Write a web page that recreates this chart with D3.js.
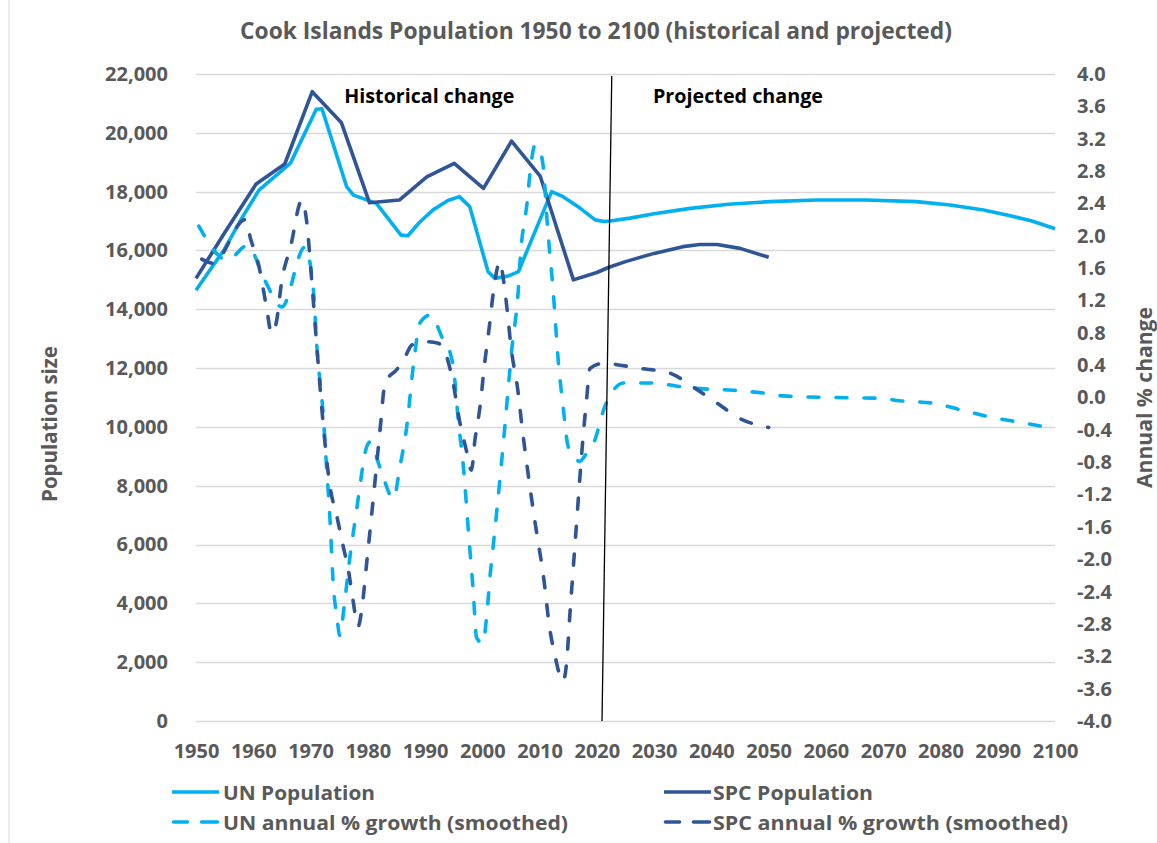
<!DOCTYPE html>
<html><head><meta charset="utf-8">
<script src="https://cdn.jsdelivr.net/npm/d3@7"></script>
<style>
body{margin:0;background:#fff}
svg{display:block}
text{font-family:"Open Sans",sans-serif;font-weight:700}
</style>
</head><body>
<svg id="chart" width="1157" height="843"></svg>
<script>
// ---------- DATA ----------
const chartTitle = "Cook Islands Population 1950 to 2100 (historical and projected)";
const xTicks = [1950,1960,1970,1980,1990,2000,2010,2020,2030,2040,2050,2060,2070,2080,2090,2100];
const leftTicks = [0,2000,4000,6000,8000,10000,12000,14000,16000,18000,20000,22000];
const rightTicks = [-4.0,-3.6,-3.2,-2.8,-2.4,-2.0,-1.6,-1.2,-0.8,-0.4,0.0,0.4,0.8,1.2,1.6,2.0,2.4,2.8,3.2,3.6,4.0];
const seriesNames = ["UN Population","SPC Population","UN annual % growth (smoothed)","SPC annual % growth (smoothed)"];

// UN population [year, persons]
const unPop = [[1950,14650],[1952.5,15350],[1955,16050],[1958,17100],[1961,18050],[1966.5,18970],[1971,20800],[1972,20820],
 [1976.3,18170],[1977.5,17880],[1981.5,17600],[1985.8,16520],[1987,16500],[1989,16950],[1991.4,17380],[1994,17700],
 [1996,17830],[1997.8,17490],[2001,15280],[2002.2,15050],[2004.5,15130],[2006.3,15280],[2012.1,18000],[2014.1,17830],
 [2017,17450],[2019.7,17040],[2021,16990],[2022.3,17000],[2025.8,17100],[2030,17250],[2036.3,17430],[2043,17570],
 [2050.2,17660],[2058.4,17715],[2067,17715],[2075.8,17660],[2081.7,17545],[2087.5,17375],[2091.6,17205],[2096,17000],[2100,16740]];

// SPC population [year, persons]
const spcPop = [[1950,15050],[1955,16600],[1960.5,18260],[1965.5,18940],[1970.3,21400],[1975.4,20340],[1980.3,17620],
 [1985.5,17715],[1990.3,18500],[1995.1,18960],[2000.2,18110],[2005.1,19720],[2010.1,18530],[2015.9,15000],[2020,15250],
 [2022,15420],[2025,15620],[2030,15900],[2035,16130],[2038,16200],[2041,16200],[2045,16070],[2050,15770]];

// UN annual % growth (smoothed) [year, %]
const unGrowth = [[1950.5,2.12],[1955.5,1.70],[1959,1.88],[1962,1.45],[1965,1.12],[1969,1.86],[1970.5,1.33],[1971.1,0.63],
 [1972.2,-0.2],[1972.8,-0.86],[1973.4,-1.51],[1974,-2.34],[1974.6,-2.71],[1975.1,-2.94],[1976,-2.5],[1976.9,-1.96],
 [1977.8,-1.51],[1978.7,-1.06],[1979.5,-0.69],[1980.4,-0.55],[1982.1,-0.86],[1984.5,-1.25],[1985.6,-0.86],[1986.8,-0.36],
 [1988,0.42],[1989.1,0.92],[1990.9,1.02],[1993.2,0.71],[1994.4,0.55],[1995,0.34],[1995.8,-0.28],[1996.7,-0.86],
 [1997.6,-1.68],[1998.4,-2.38],[1999,-2.97],[2000.1,-3.04],[2000.8,-2.67],[2001.4,-2.17],[2001.7,-1.97],[2003.4,-0.77],
 [2005.2,0.63],[2006.3,1.35],[2006.6,1.70],[2007.8,2.40],[2008.6,2.94],[2009.2,3.12],[2010.1,3.04],[2010.7,2.81],
 [2011.3,2.19],[2012.4,1.29],[2013.3,0.42],[2014.1,-0.11],[2015,-0.61],[2016.5,-0.77],[2017,-0.79],[2018.2,-0.69],
 [2019.4,-0.57],[2021.4,-0.11],[2022.9,0.09],[2024.6,0.18],[2029.9,0.18],[2034,0.14],[2038,0.11],[2043.8,0.09],
 [2049.6,0.05],[2052.5,0.02],[2061.3,0.0],[2069.5,-0.01],[2072.9,-0.04],[2078.7,-0.07],[2083.4,-0.15],[2088.6,-0.24],
 [2093.3,-0.30],[2098.8,-0.37]];

// SPC annual % growth (smoothed) [year, %]
const spcGrowth = [[1951,1.71],[1953,1.66],[1958.6,2.2],[1959.5,1.97],[1961,1.62],[1962.3,1.12],[1963.2,0.79],[1964,0.92],
 [1965,1.45],[1966.5,1.86],[1968.5,2.44],[1969.3,2.19],[1970.2,1.45],[1971.1,0.63],[1972.2,-0.32],[1973.4,-1.10],
 [1974.6,-1.47],[1975.7,-1.84],[1976.6,-2.13],[1977.4,-2.50],[1978.3,-2.83],[1979,-2.59],[1979.8,-2.05],[1980.7,-1.43],
 [1981.5,-0.86],[1982.3,-0.28],[1982.8,0.09],[1983.4,0.22],[1985,0.34],[1986.5,0.50],[1987.7,0.65],[1990,0.69],
 [1992.3,0.67],[1993.8,0.50],[1994.9,0.18],[1996.1,-0.32],[1997.2,-0.65],[1998.1,-0.90],[1998.7,-0.53],[1999.6,-0.11],
 [2000.4,0.42],[2001.3,0.92],[2001.9,1.29],[2003.1,1.68],[2003.7,1.45],[2004.4,1.04],[2005,0.63],[2006.2,0.09],
 [2007,-0.40],[2008.3,-1.10],[2009.5,-1.68],[2010.6,-2.17],[2011.8,-2.87],[2012.7,-3.2],[2014.1,-3.51],[2014.7,-3.29],
 [2015.3,-2.67],[2015.9,-2.09],[2016.5,-1.51],[2017,-1.02],[2017.6,-0.48],[2018.2,-0.03],[2018.8,0.36],[2021,0.42],
 [2027.5,0.36],[2032.8,0.30],[2036.8,0.13],[2041,-0.07],[2045,-0.26],[2050,-0.37]];

// annotations
const annotations = [{text:"Historical change", year:1975.9}, {text:"Projected change", year:2029.8}];
const divider = [[2022.6,21930],[2020.9,0]];

// ---------- LAYOUT ----------
const svg = d3.select("#chart");
const W = 1157, H = 843;
const plot = {left:196, right:1055, top:74, bottom:721};
const blue = "#00B0F0", navy = "#2F5597", grey = "#595959", grid = "#D9D9D9";

const x = d3.scaleLinear().domain([1950,2100]).range([plot.left, plot.right]);
const yL = d3.scaleLinear().domain([0,22000]).range([plot.bottom, plot.top]);
const yR = d3.scaleLinear().domain([-4,4]).range([plot.bottom, plot.top]);

svg.append("rect").attr("width",W).attr("height",H).attr("fill","#fff");
svg.append("line").attr("x1",9).attr("x2",9).attr("y1",0).attr("y2",H).attr("stroke",grid).attr("stroke-width",1);

// gridlines
svg.append("g").selectAll("line").data(leftTicks).join("line")
  .attr("x1",plot.left).attr("x2",plot.right)
  .attr("y1",d=>Math.round(yL(d))+0.5).attr("y2",d=>Math.round(yL(d))+0.5)
  .attr("stroke",grid).attr("stroke-width",1.3);

// axes
const axL = svg.append("g").attr("transform",`translate(${plot.left},0)`)
  .call(d3.axisLeft(yL).tickValues(leftTicks).tickSize(0).tickPadding(28).tickFormat(d3.format(",")));
const axR = svg.append("g").attr("transform",`translate(${plot.right},0)`)
  .call(d3.axisRight(yR).tickValues(rightTicks).tickSize(0).tickPadding(22).tickFormat(d=>d.toFixed(1)));
const axB = svg.append("g").attr("transform",`translate(0,${plot.bottom})`)
  .call(d3.axisBottom(x).tickValues(xTicks).tickSize(0).tickPadding(23).tickFormat(d3.format("d")));
[axL,axR,axB].forEach(a=>{
  a.select(".domain").remove();
  a.selectAll("text").attr("fill",grey).style("font-size","20px").style("font-family","'Open Sans',sans-serif").style("font-weight","700");
});

// axis titles
svg.append("text").attr("transform","translate(57,424) rotate(-90)").attr("text-anchor","middle")
  .attr("fill",grey).style("font-size","21px").attr("textLength",156).attr("lengthAdjust","spacingAndGlyphs")
  .text("Population size");
svg.append("text").attr("transform","translate(1152,397.5) rotate(-90)").attr("text-anchor","middle")
  .attr("fill",grey).style("font-size","21px").attr("textLength",181).attr("lengthAdjust","spacingAndGlyphs")
  .text("Annual % change");

// title
svg.append("text").attr("x",240).attr("y",38.5).attr("fill",grey).style("font-size","23px")
  .attr("textLength",712).attr("lengthAdjust","spacingAndGlyphs").text(chartTitle);

// lines
const lineL = d3.line().x(d=>x(d[0])).y(d=>yL(d[1])).curve(d3.curveLinear);
const lineR = d3.line().x(d=>x(d[0])).y(d=>yR(d[1])).curve(d3.curveMonotoneX);
const series = [
  {data:unPop, gen:lineL, color:blue, dash:null},
  {data:spcPop, gen:lineL, color:navy, dash:null},
  {data:unGrowth, gen:lineR, color:blue, dash:"11,17"},
  {data:spcGrowth, gen:lineR, color:navy, dash:"11,17"}
];
svg.append("g").selectAll("path").data(series).join("path")
  .attr("d",s=>s.gen(s.data)).attr("fill","none").attr("stroke",s=>s.color)
  .attr("stroke-width",3.6).attr("stroke-linejoin","round")
  .attr("stroke-linecap",s=>s.dash?"round":"butt")
  .attr("stroke-dasharray",s=>s.dash);

// divider line
svg.append("line").attr("x1",x(divider[0][0])).attr("y1",yL(divider[0][1]))
  .attr("x2",x(divider[1][0])).attr("y2",yL(divider[1][1]))
  .attr("stroke","#000").attr("stroke-width",1.3);

// annotations
svg.append("g").selectAll("text").data(annotations).join("text")
  .attr("x",d=>x(d.year)).attr("y",103.4).attr("fill","#000").style("font-size","20px")
  .attr("textLength",170).attr("lengthAdjust","spacingAndGlyphs").text(d=>d.text);

// legend
const legendPos = [
  {x:172, y:792, tx:223, len:152},
  {x:664, y:792, tx:713, len:160},
  {x:172, y:822, tx:223, len:345},
  {x:664, y:822, tx:713, len:355}
];
const lg = svg.append("g");
series.forEach((s,i)=>{
  const p = legendPos[i];
  if(!s.dash){
    lg.append("line").attr("x1",p.x).attr("x2",p.x+47).attr("y1",p.y).attr("y2",p.y)
      .attr("stroke",s.color).attr("stroke-width",3.6);
  } else {
    [[0,17],[28,47]].forEach(seg=>{
      lg.append("line").attr("x1",p.x+seg[0]+1.5).attr("x2",p.x+seg[1]-1.5).attr("y1",p.y).attr("y2",p.y)
        .attr("stroke",s.color).attr("stroke-width",3.6).attr("stroke-linecap","round");
    });
  }
  lg.append("text").attr("x",p.tx).attr("y",p.y+8).attr("fill",grey).style("font-size","20px")
    .attr("textLength",p.len).attr("lengthAdjust","spacingAndGlyphs").text(seriesNames[i]);
});
</script>
</body></html>
